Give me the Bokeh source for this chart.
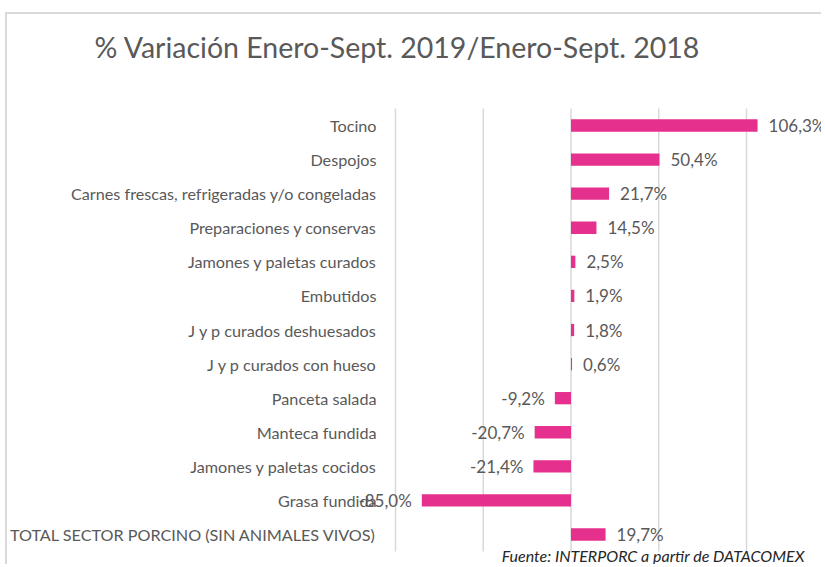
from bokeh.plotting import figure
from bokeh.models import Range1d, ColumnDataSource, LabelSet, Label
from bokeh.core.properties import value
from bokeh.embed import file_html
from bokeh.resources import INLINE

categories = [
    "Tocino",
    "Despojos",
    "Carnes frescas, refrigeradas y/o congeladas",
    "Preparaciones y conservas",
    "Jamones y paletas curados",
    "Embutidos",
    "J y p curados deshuesados",
    "J y p curados con hueso",
    "Panceta salada",
    "Manteca fundida",
    "Jamones y paletas cocidos",
    "Grasa fundida",
    "TOTAL SECTOR PORCINO (SIN ANIMALES VIVOS)",
]
values = [106.3, 50.4, 21.7, 14.5, 2.5, 1.9, 1.8, 0.6, -9.2, -20.7, -21.4, -85.0, 19.7]
grid_ticks = [-100, -50, 0, 50, 100]
title_text = "% Variación Enero-Sept. 2019/Enero-Sept. 2018"
source_text = "Fuente: INTERPORC  a partir de DATACOMEX"

FONT = "Lato"
GRAY = "#595959"
BAR = "#E5308D"

n = len(categories)
ypos = [n - 1 - i for i in range(n)]  # first category at the top
labels = [("%.1f" % v).replace(".", ",") + "%" for v in values]

src = ColumnDataSource(dict(cat=categories, y=ypos, value=values, label=labels))
pos = ColumnDataSource(dict(
    y=[y for y, v in zip(ypos, values) if v >= 0],
    value=[v for v in values if v >= 0],
    label=[l for l, v in zip(labels, values) if v >= 0],
))
neg = ColumnDataSource(dict(
    y=[y for y, v in zip(ypos, values) if v < 0],
    value=[v for v in values if v < 0],
    label=[l for l, v in zip(labels, values) if v < 0],
))
grid = ColumnDataSource(dict(x=grid_ticks, y0=[-0.5] * len(grid_ticks),
                             y1=[n - 0.5] * len(grid_ticks)))

W, H = 816, 552
PX_X = 1.755            # px per percentage point
ZERO_PX = 388 + 100 * PX_X
PX_Y = 34.083           # px per category band
TOP_PX, BOTTOM_PX = 111, 520   # centres of first / last category in figure px

p = figure(
    width=W, height=H,
    x_range=Range1d(-ZERO_PX / PX_X, (W - ZERO_PX) / PX_X),
    y_range=Range1d(-(H - BOTTOM_PX) / PX_Y, (n - 1) + TOP_PX / PX_Y),
    output_backend="svg", toolbar_location=None,
    min_border=0,
)
p.styles = {"margin-left": "5px", "margin-top": "12px",
            "border-top": "2px solid #d9d9d9", "border-left": "2px solid #d9d9d9"}
p.outline_line_color = None
p.background_fill_color = "white"
p.border_fill_color = "white"
p.axis.visible = False
p.grid.visible = False

p.segment(x0="x", y0="y0", x1="x", y1="y1", source=grid,
          line_color="#d9d9d9", line_width=1.5)

p.hbar(y="y", left=0, right="value", height=0.36, source=src,
       fill_color=BAR, line_color=None)

p.add_layout(LabelSet(x=369, y="y", text="cat", source=src, x_units="screen",
                      text_align="right", text_baseline="middle",
                      text_font=value(FONT), text_font_size="16.2px", text_color=GRAY))

p.add_layout(LabelSet(x="value", y="y", text="label", source=pos,
                      x_offset=11, text_align="left", text_baseline="middle",
                      text_font=value(FONT), text_font_size="17px", text_color=GRAY))
p.add_layout(LabelSet(x="value", y="y", text="label", source=neg,
                      x_offset=-10, text_align="right", text_baseline="middle",
                      text_font=value(FONT), text_font_size="17px", text_color=GRAY))

p.add_layout(Label(x=390, y=520, x_units="screen", y_units="screen", text=title_text,
                   text_align="center", text_baseline="middle",
                   text_font=FONT, text_font_size="28.5px", text_color=GRAY))
p.add_layout(Label(x=801, y=11, x_units="screen", y_units="screen", text=source_text,
                   text_align="right", text_baseline="middle",
                   text_font=FONT, text_font_size="16px", text_font_style="italic",
                   text_color="#262626"))

open("out.html", "w").write(file_html(p, INLINE))
